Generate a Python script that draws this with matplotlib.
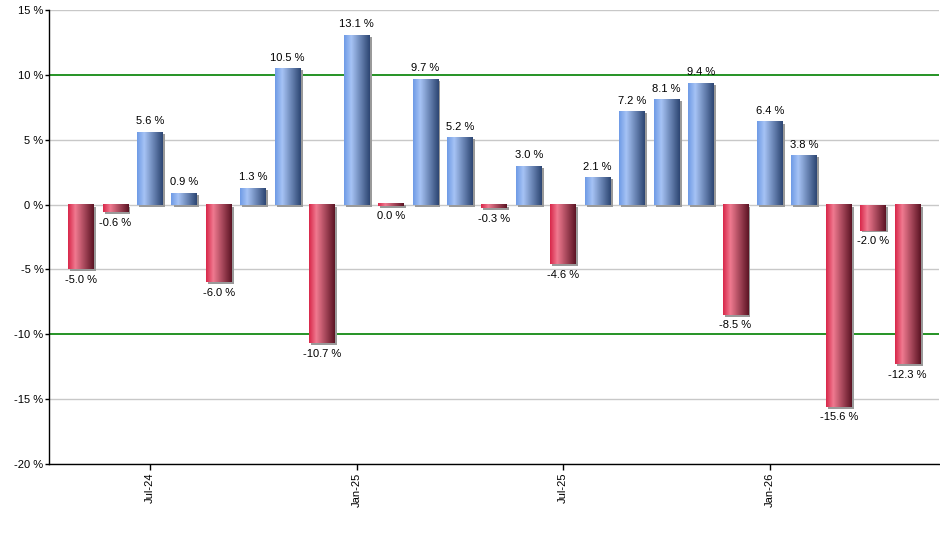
import numpy as np
import matplotlib.pyplot as plt
from matplotlib.colors import LinearSegmentedColormap
from matplotlib.patches import Rectangle

# monthly returns May-24 .. May-26
months = ['May-24', 'Jun-24', 'Jul-24', 'Aug-24', 'Sep-24', 'Oct-24', 'Nov-24', 'Dec-24',
          'Jan-25', 'Feb-25', 'Mar-25', 'Apr-25', 'May-25', 'Jun-25', 'Jul-25', 'Aug-25',
          'Sep-25', 'Oct-25', 'Nov-25', 'Dec-25', 'Jan-26', 'Feb-26', 'Mar-26', 'Apr-26', 'May-26']
returns = [-5.0, -0.6, 5.6, 0.9, -6.0, 1.3, 10.5, -10.7, 13.1, 0.0, 9.7, 5.2, -0.3,
           3.0, -4.6, 2.1, 7.2, 8.1, 9.4, -8.5, 6.4, 3.8, -15.6, -2.0, -12.3]
tick_months = ['Jul-24', 'Jan-25', 'Jul-25', 'Jan-26']
yticks = [-20, -15, -10, -5, 0, 5, 10, 15]

plt.rcParams['font.family'] = 'Liberation Sans'

blue = LinearSegmentedColormap.from_list('b', [(0, '#6f9be6'), (0.28, '#a6c3f5'), (1, '#2d4673')])
red = LinearSegmentedColormap.from_list('r', [(0, '#d8284a'), (0.28, '#f07a90'), (1, '#5c1424')])
grad = np.linspace(0, 1, 64).reshape(1, -1)

fig = plt.figure(figsize=(9.4, 5.5), dpi=100)
ax = fig.add_axes([49/940, 86/550, 890/940, 454/550])

x = np.arange(len(returns))
w = 0.75
ax.set_xlim(-0.93, 24.91)
ax.set_ylim(-20, 15)

# grid + green limits
for y in yticks:
    if abs(y) == 10:
        ax.axhline(y, color='#008000', lw=1.2, zorder=1)
    else:
        ax.axhline(y, color='#c8c8c8', lw=1, zorder=1)

for xi, v in zip(x, returns):
    cmap = blue if v > 0 else red
    y0, y1 = min(0, v), max(0, v)
    if y1 - y0 < 0.08:
        y0, y1 = -0.08, 0.08
    # shadow
    ax.add_patch(Rectangle((xi - w/2 + 0.06, y0 - 0.15), w, y1 - y0, color='#9a9a9a', zorder=2, lw=0))
    ax.imshow(grad, cmap=cmap, aspect='auto', extent=(xi - w/2, xi + w/2, y0, y1), zorder=3)
    lab = f'{v:.1f} %'
    if v > 0:
        ax.annotate(lab, (xi, v), xytext=(0, 4), textcoords='offset points', ha='center', va='bottom', fontsize=8)
    else:
        ax.annotate(lab, (xi, min(v, -0.1)), xytext=(0, -4), textcoords='offset points', ha='center', va='top', fontsize=8)

ax.set_xlim(-0.93, 24.91)
ax.set_ylim(-20, 15)

ax.set_yticks(yticks)
ax.set_yticklabels([f'{t} %' for t in yticks], fontsize=8)
ax.set_xticks([months.index(m) for m in tick_months])
ax.set_xticklabels(tick_months, rotation=90, fontsize=8)
ax.tick_params(axis='x', length=4, width=1, pad=2)
ax.tick_params(axis='y', length=3, width=1, pad=1)
ax.spines['top'].set_visible(False)
ax.spines['right'].set_visible(False)
ax.spines['left'].set_linewidth(1)
ax.spines['bottom'].set_linewidth(1)

plt.savefig('out.png', dpi=100)
